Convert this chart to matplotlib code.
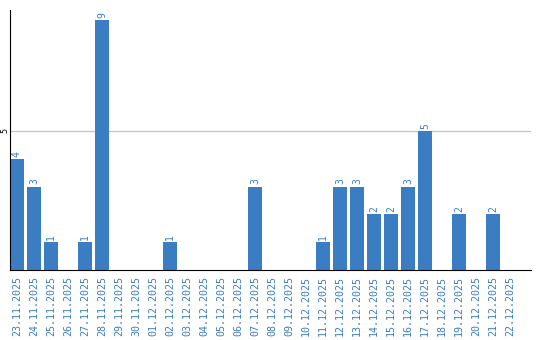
import matplotlib
matplotlib.use('Agg')
import matplotlib.pyplot as plt

dates = ['23.11.2025', '24.11.2025', '25.11.2025', '26.11.2025', '27.11.2025',
         '28.11.2025', '29.11.2025', '30.11.2025', '01.12.2025', '02.12.2025',
         '03.12.2025', '04.12.2025', '05.12.2025', '06.12.2025', '07.12.2025',
         '08.12.2025', '09.12.2025', '10.12.2025', '11.12.2025', '12.12.2025',
         '13.12.2025', '14.12.2025', '15.12.2025', '16.12.2025', '17.12.2025',
         '18.12.2025', '19.12.2025', '20.12.2025', '21.12.2025', '22.12.2025']
counts = [4, 3, 1, 0, 1, 9, 0, 0, 0, 1,
          0, 0, 0, 0, 3, 0, 0, 0, 1, 3,
          3, 2, 2, 3, 5, 0, 2, 0, 2, 0]

blue = '#3a7dc2'

fig = plt.figure(figsize=(5.4, 3.4), dpi=100)
W, H = 540, 340
ax = fig.add_axes([10 / W, 1 - 270 / H, 521 / W, 260 / H])

x = list(range(len(dates)))
ax.bar(x, counts, width=14 / 17, color=blue, zorder=2)

for i, v in enumerate(counts):
    if v > 0:
        ax.text(i, v + 0.08, str(v), rotation=90, ha='center', va='bottom',
                fontsize=7, color=blue, family='DejaVu Sans Mono')

ax.set_xlim(-0.41, 30.24)
ax.set_ylim(0, 9.35)
ax.axhline(5, color='#c8c8c8', linewidth=1, zorder=1)

ax.set_yticks([5])
ax.set_yticklabels(['5'], rotation=90, va='center', fontsize=6,
                   family='DejaVu Sans Mono')
ax.tick_params(axis='y', length=0, pad=0.5)

ax.set_xticks(x)
ax.set_xticklabels(dates, rotation=90, fontsize=7.2, color=blue,
                   family='DejaVu Sans Mono')
ax.tick_params(axis='x', length=0, pad=4)

for s in ['top', 'right']:
    ax.spines[s].set_visible(False)
ax.spines['left'].set_color('black')
ax.spines['bottom'].set_color('black')

fig.savefig('out.png', dpi=100)
